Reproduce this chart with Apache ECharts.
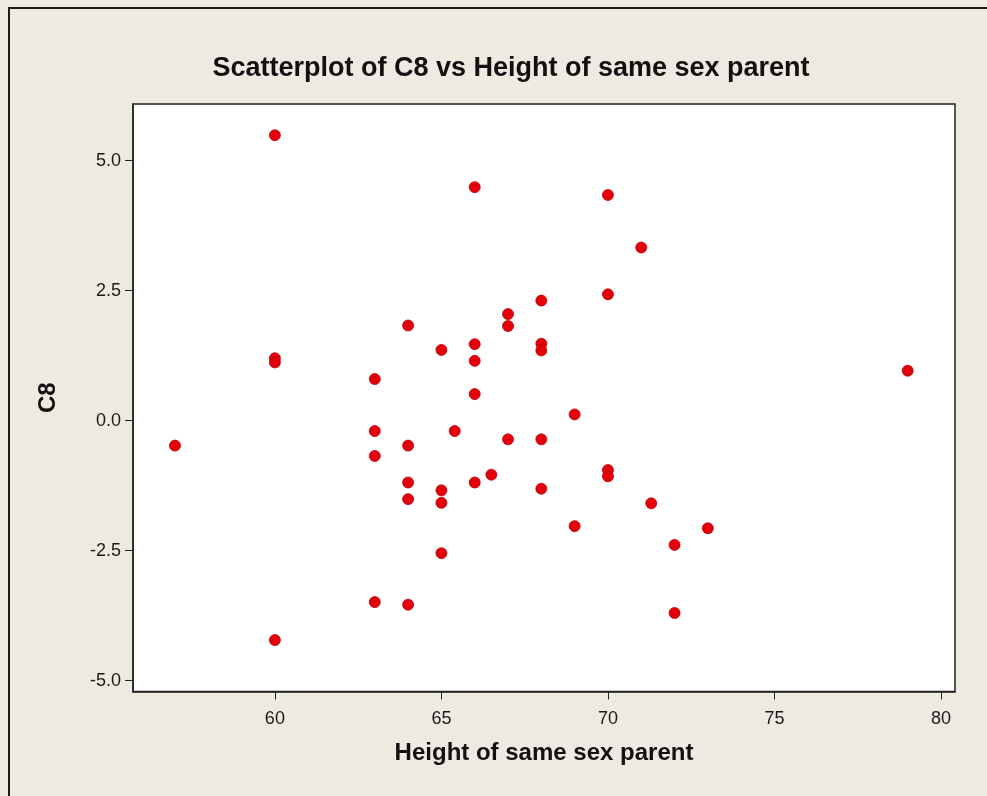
<!DOCTYPE html>
<html>
<head>
<meta charset="utf-8">
<script src="https://cdn.jsdelivr.net/npm/echarts@6/dist/echarts.min.js"></script>
<style>
  html, body { margin: 0; padding: 0; background: #efeae1; }
  #chart { width: 987px; height: 796px; }
</style>
</head>
<body>
<div id="chart"></div>
<script>
// Height of same sex parent (inches)
const parentHeight = [
  57, 60, 60, 60, 60,
  63, 63, 63, 63,
  64, 64, 64, 64, 64,
  65, 65, 65, 65, 65.4,
  66, 66, 66, 66, 66, 66.5,
  67, 67, 67,
  68, 68, 68, 68, 68,
  69, 69,
  70, 70, 70, 70,
  71, 71.3, 72, 72, 73, 79
];
// C8 values
const c8 = [
  -0.48, 5.49, 1.20, 1.12, -4.22,
  0.80, -0.20, -0.68, -3.49,
  1.83, -0.48, -1.19, -1.51, -3.54,
  1.36, -1.34, -1.58, -2.55, -0.20,
  4.49, 1.47, 1.15, 0.51, -1.19, -1.04,
  2.05, 1.82, -0.36,
  2.31, 1.48, 1.35, -0.36, -1.31,
  0.12, -2.03,
  4.34, 2.43, -0.95, -1.07,
  3.33, -1.59, -2.39, -3.70, -2.07, 0.96
];
const xTicks = [60, 65, 70, 75, 80];
const yTicks = [-5, -2.5, 0, 2.5, 5];

const points = parentHeight.map((h, i) => [h, c8[i]]);

const boldFont = '"Liberation Sans", Arial, sans-serif';

const chart = echarts.init(document.getElementById('chart'));
chart.setOption({
  backgroundColor: '#efeae1',
  animation: false,
  title: {
    text: 'Scatterplot of C8 vs Height of same sex parent',
    left: 506,
    top: 50,
    textAlign: 'center',
    textStyle: {
      fontFamily: boldFont,
      fontWeight: 'bold',
      fontSize: 27,
      color: '#111'
    }
  },
  graphic: [{
    type: 'rect',
    shape: { x: 9, y: 8, width: 1200, height: 1200 },
    style: { fill: 'none', stroke: '#1a1a1a', lineWidth: 2 },
    silent: true
  }],
  grid: {
    left: 133, top: 104, right: 32, bottom: 104.5,
    show: true,
    backgroundColor: '#ffffff',
    borderColor: '#222',
    borderWidth: 1.5
  },
  xAxis: {
    type: 'value',
    min: 55.74, max: 80.42,
    name: 'Height of same sex parent',
    nameLocation: 'middle',
    nameGap: 50,
    nameTextStyle: {
      fontFamily: boldFont,
      fontWeight: 'bold', fontSize: 24, color: '#111'
    },
    axisLine: { show: true, onZero: false, lineStyle: { color: '#222', width: 1.5 } },
    axisTick: { show: true, length: 8, customValues: xTicks, lineStyle: { color: '#222' } },
    axisLabel: {
      customValues: xTicks, margin: 19,
      fontFamily: '"Liberation Sans", sans-serif', fontSize: 18, color: '#1a1a1a'
    },
    splitLine: { show: false }
  },
  yAxis: {
    type: 'value',
    min: -5.21, max: 6.09,
    name: 'C8',
    nameLocation: 'middle',
    nameGap: 73,
    nameTextStyle: {
      fontFamily: boldFont,
      fontWeight: 'bold', fontSize: 24, color: '#111'
    },
    axisLine: { show: true, onZero: false, lineStyle: { color: '#222', width: 1.5 } },
    axisTick: { show: true, length: 8, customValues: yTicks, lineStyle: { color: '#222' } },
    axisLabel: {
      customValues: yTicks, margin: 12,
      fontFamily: '"Liberation Sans", sans-serif', fontSize: 18, color: '#1a1a1a',
      formatter: v => v.toFixed(1)
    },
    splitLine: { show: false }
  },
  series: [{
    type: 'scatter',
    data: points,
    symbol: 'circle',
    symbolSize: 11,
    itemStyle: { color: '#e3000b', borderColor: '#b8000a', borderWidth: 0.8, opacity: 1 }
  }]
});
</script>
</body>
</html>
